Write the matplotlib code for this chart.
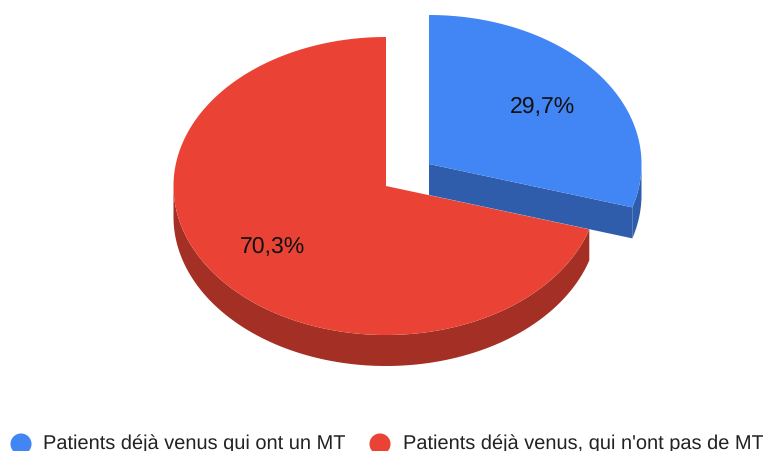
import numpy as np
import matplotlib
matplotlib.use("Agg")
import matplotlib.pyplot as plt

labels = ["Patients déjà venus qui ont un MT", "Patients déjà venus, qui n'ont pas de MT"]
values = [29.7, 70.3]
value_labels = ["29,7%", "70,3%"]
top_colors = ["#4285f4", "#ea4335"]
wall_colors = ["#2f5dab", "#a42f25"]

W, H = 763, 452
RX, RY, DEPTH = 212.5, 149, 31
centers = [(429, 165), (386, 187)]
label_pos = [(542, 107), (272, 247)]

plt.rcParams["font.family"] = ["Liberation Sans", "DejaVu Sans"]
plt.rcParams["text.hinting"] = "no_hinting"
plt.rcParams["text.hinting_factor"] = 1
fig = plt.figure(figsize=(W / 100, H / 100), dpi=100)
ax = fig.add_axes([0, 0, 1, 1])


def rim(cx, cy, a):
    # a: clockwise angle from 12 o'clock, radians; y axis points down
    return cx + RX * np.sin(a), cy - RY * np.cos(a)


fractions = np.array(values) / sum(values)
edges = np.concatenate([[0], np.cumsum(fractions)]) * 2 * np.pi

for i in [1, 0]:
    cx, cy = centers[i]
    a0, a1 = edges[i], edges[i + 1]
    # outer wall: the part of the rim facing the viewer (90deg..270deg)
    lo, hi = max(a0, np.pi / 2), min(a1, 3 * np.pi / 2)
    if lo < hi:
        t = np.linspace(lo, hi, 200)
        x, y = rim(cx, cy, t)
        ax.fill(np.r_[x, x[::-1]], np.r_[y, y[::-1] + DEPTH],
                color=wall_colors[i], lw=0, zorder=4 if i == 0 else 2)
    # radial face of the detached slice
    if i == 0:
        xe, ye = rim(cx, cy, a1)
        ax.fill([cx, xe, xe, cx], [cy, ye, ye + DEPTH, cy + DEPTH],
                color=wall_colors[i], lw=0, zorder=4)
    # top face
    t = np.linspace(a0, a1, 400)
    x, y = rim(cx, cy, t)
    ax.fill(np.r_[cx, x], np.r_[cy, y], color=top_colors[i], lw=0,
            zorder=5 if i == 0 else 3)
    ax.text(*label_pos[i], value_labels[i], fontsize=16.5, color="#111111",
            ha="center", va="center", zorder=6)

ax.scatter([21, 380], [445, 445], s=230, c=top_colors, lw=0, zorder=6)
ax.text(43, 444, labels[0], fontsize=14.2, color="#222222", va="center", ha="left")
ax.text(403, 444, labels[1], fontsize=14.2, color="#222222", va="center", ha="left")

ax.set_xlim(0, W)
ax.set_ylim(H, 0)
ax.axis("off")
fig.savefig("out.png", dpi=100)
